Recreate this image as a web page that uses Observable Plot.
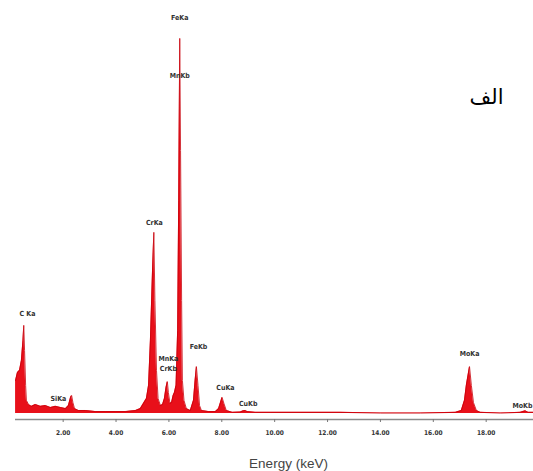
<!DOCTYPE html>
<html>
<head>
<meta charset="utf-8">
<script src="https://cdn.jsdelivr.net/npm/d3@7"></script>
<script src="https://cdn.jsdelivr.net/npm/@observablehq/plot@0.6"></script>
<style>
  html, body { margin: 0; padding: 0; background: #fff; overflow: hidden; }
  svg { display: block; }
</style>
</head>
<body>
<script>
// Spectrum: energy (keV) and counts (Fe Kα peak = 1000)
const energy = [0.20,0.27,0.35,0.42,0.48,0.51,0.54,0.58,0.61,0.69,0.80,0.95,1.14,1.33,1.52,1.71,1.90,2.09,2.20,2.28,2.32,2.37,2.43,2.58,2.84,3.22,3.60,3.98,4.36,4.74,4.92,5.04,5.15,5.23,5.30,5.38,5.43,5.47,5.53,5.59,5.68,5.76,5.83,5.89,5.94,5.98,6.04,6.10,6.16,6.21,6.27,6.33,6.37,6.41,6.44,6.48,6.51,6.57,6.66,6.81,6.93,6.99,7.04,7.10,7.16,7.23,7.50,7.76,7.88,7.95,8.01,8.08,8.17,8.40,8.70,8.81,8.89,8.96,9.27,9.84,10.97,12.49,14.00,15.51,16.84,17.06,17.18,17.25,17.37,17.44,17.52,17.63,17.78,18.54,19.29,19.48,19.59,19.79];
const counts = [88,109,115,141,195,235,168,75,35,24,19,24,19,21,16,19,16,13,21,43,48,29,13,8,8,5,5,5,5,8,13,27,40,75,195,381,483,301,115,40,21,24,40,69,85,56,27,29,48,56,75,221,568,1000,701,301,88,35,13,8,35,88,125,75,21,8,5,5,13,29,43,27,8,3,4,7,8,5,3,3,3,3,1,1,3,8,35,75,125,75,29,8,3,1,3,7,3,3];

// Peak labels (the last one, MoKb, sits against the right edge)
const peakNames  = ["FeKa","MnKb","CrKa","C Ka","SiKa","MnKa","CrKb","FeKb","CuKa","CuKb","MoKa","MoKb"];
const peakEnergy = [6.41,6.41,5.45,0.65,1.82,5.98,5.98,7.12,8.14,9.00,17.37,19.75];
const peakLabelY = [1056,901,509,267,40,147,120,179,69,27,160,21];

const xTicks = [2,4,6,8,10,12,14,16,18];
const xLabel = "Energy (keV)";
const panelLabel = "الف";

const spectrum = energy.map((e, i) => ({energy: e, counts: counts[i]}));
const labels = peakNames.map((n, i) => ({name: n, energy: peakEnergy[i], y: peakLabelY[i]}));
const labelStyle = {
  x: "energy", y: "y", text: "name",
  fontSize: 7, fontWeight: "bold",
  fontFamily: "DejaVu Sans Condensed, sans-serif",
  fill: "#333"
};

const chart = Plot.plot({
  width: 533,
  height: 471,
  marginTop: 0,
  marginLeft: 15,
  marginRight: 0,
  marginBottom: 52,
  style: {background: "#fff"},
  x: {domain: [0.197, 19.79]},
  y: {domain: [-16, 1101], axis: null},
  marks: [
    Plot.areaY(spectrum, {x: "energy", y: "counts", fill: "#e8101a"}),
    Plot.lineY(spectrum, {x: "energy", y: "counts", stroke: "#c8000a", strokeWidth: 0.8}),
    Plot.ruleY([-16], {stroke: "#8a8a8a", strokeWidth: 1.5}),
    Plot.axisX({
      ticks: xTicks,
      tickFormat: d3.format(".2f"),
      tickSize: 3,
      tickPadding: 8,
      label: null,
      stroke: "#777",
      fill: "#333",
      fontSize: 6.5,
      fontWeight: "bold",
      fontFamily: "DejaVu Sans Condensed, sans-serif"
    }),
    Plot.text(labels.filter(d => d.name !== "MoKb"), {...labelStyle, textAnchor: "middle"}),
    Plot.text(labels.filter(d => d.name === "MoKb"), {...labelStyle, textAnchor: "end"}),
    Plot.text([xLabel], {
      frameAnchor: "bottom", dx: 14, dy: 44, lineAnchor: "middle",
      fontSize: 13.5, fill: "#444", fontFamily: "Liberation Sans, Arial, sans-serif"
    }),
    Plot.text([panelLabel], {
      frameAnchor: "top-right", textAnchor: "end", dx: -30, dy: 97, lineAnchor: "middle",
      fontSize: 21, fill: "#000", fontFamily: "DejaVu Sans, sans-serif"
    })
  ]
});
document.body.appendChild(chart);
</script>
</body>
</html>
